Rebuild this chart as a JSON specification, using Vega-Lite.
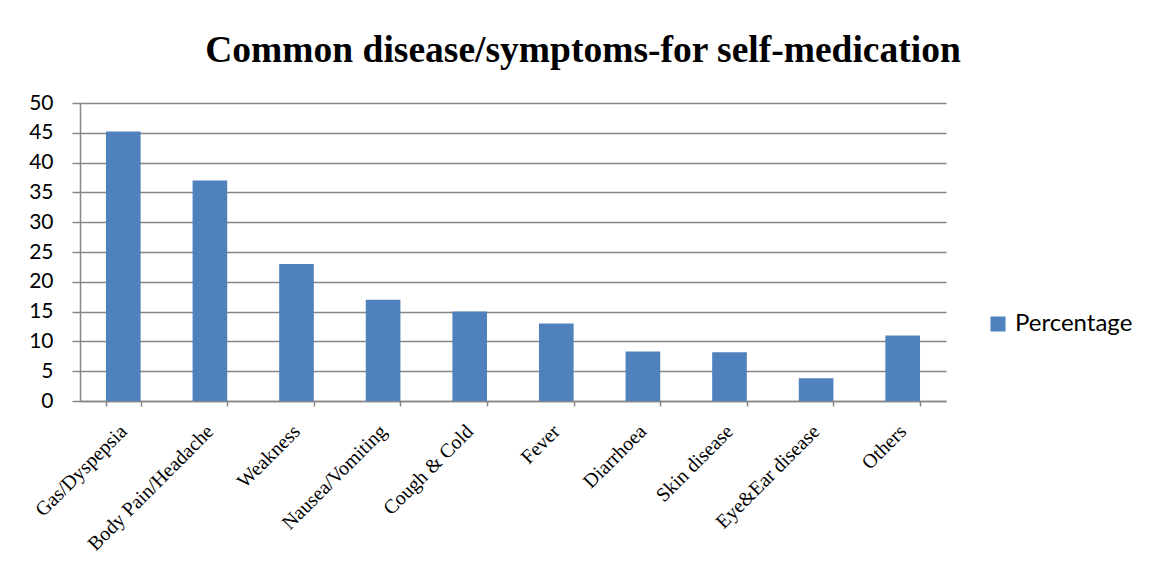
{
  "$schema": "https://vega.github.io/schema/vega-lite/v6.json",
  "width": 866,
  "height": 298,
  "autosize": {"type": "none"},
  "padding": {"left": 80, "top": 103, "right": 204, "bottom": 170},
  "background": "white",
  "title": {
    "text": "Common disease/symptoms-for self-medication",
    "font": "Liberation Serif",
    "fontSize": 37.5,
    "fontWeight": "bold",
    "color": "black",
    "anchor": "middle",
    "dx": 70,
    "offset": 23
  },
  "config": {"view": {"stroke": null}},
  "data": {
    "values": [
      {"symptom": "Gas/Dyspepsia", "percentage": 45.2},
      {"symptom": "Body Pain/Headache", "percentage": 37},
      {"symptom": "Weakness", "percentage": 23},
      {"symptom": "Nausea/Vomiting", "percentage": 17},
      {"symptom": "Cough & Cold", "percentage": 15},
      {"symptom": "Fever", "percentage": 13},
      {"symptom": "Diarrhoea", "percentage": 8.3},
      {"symptom": "Skin disease", "percentage": 8.2},
      {"symptom": "Eye&Ear disease", "percentage": 3.8},
      {"symptom": "Others", "percentage": 11}
    ]
  },
  "mark": {"type": "bar"},
  "encoding": {
    "x": {
      "field": "symptom",
      "type": "nominal",
      "sort": null,
      "scale": {"paddingInner": 0.6, "paddingOuter": 0.3},
      "axis": {
        "title": null,
        "labelAngle": -45,
        "labelAlign": "right",
        "labelBaseline": "middle",
        "labelFont": "Liberation Serif",
        "labelFontSize": 20,
        "labelColor": "black",
        "labelPadding": 22,
        "labelOverlap": false,
        "tickBand": "extent",
        "tickSize": 5,
        "tickColor": "#868686",
        "tickWidth": 1.5,
        "domainColor": "#868686",
        "domainWidth": 1.5,
        "grid": false
      }
    },
    "y": {
      "field": "percentage",
      "type": "quantitative",
      "scale": {"domain": [0, 50], "nice": false},
      "axis": {
        "title": null,
        "values": [0, 5, 10, 15, 20, 25, 30, 35, 40, 45, 50],
        "labelFont": "Lato",
        "labelFontSize": 21,
        "labelColor": "black",
        "labelPadding": 19,
        "tickSize": 8,
        "tickColor": "#868686",
        "tickWidth": 1.5,
        "domainColor": "#868686",
        "domainWidth": 1.5,
        "grid": true,
        "gridColor": "#868686",
        "gridWidth": 1.5
      }
    },
    "color": {
      "datum": "Percentage",
      "type": "nominal",
      "scale": {"range": ["#4F81BD"]},
      "legend": {
        "title": null,
        "orient": "none",
        "legendX": 906,
        "legendY": 209,
        "symbolType": "square",
        "symbolSize": 225,
        "symbolStrokeWidth": 0,
        "symbolOpacity": 1,
        "labelFont": "Lato",
        "labelFontSize": 24,
        "labelColor": "black",
        "labelOffset": 5
      }
    }
  }
}
